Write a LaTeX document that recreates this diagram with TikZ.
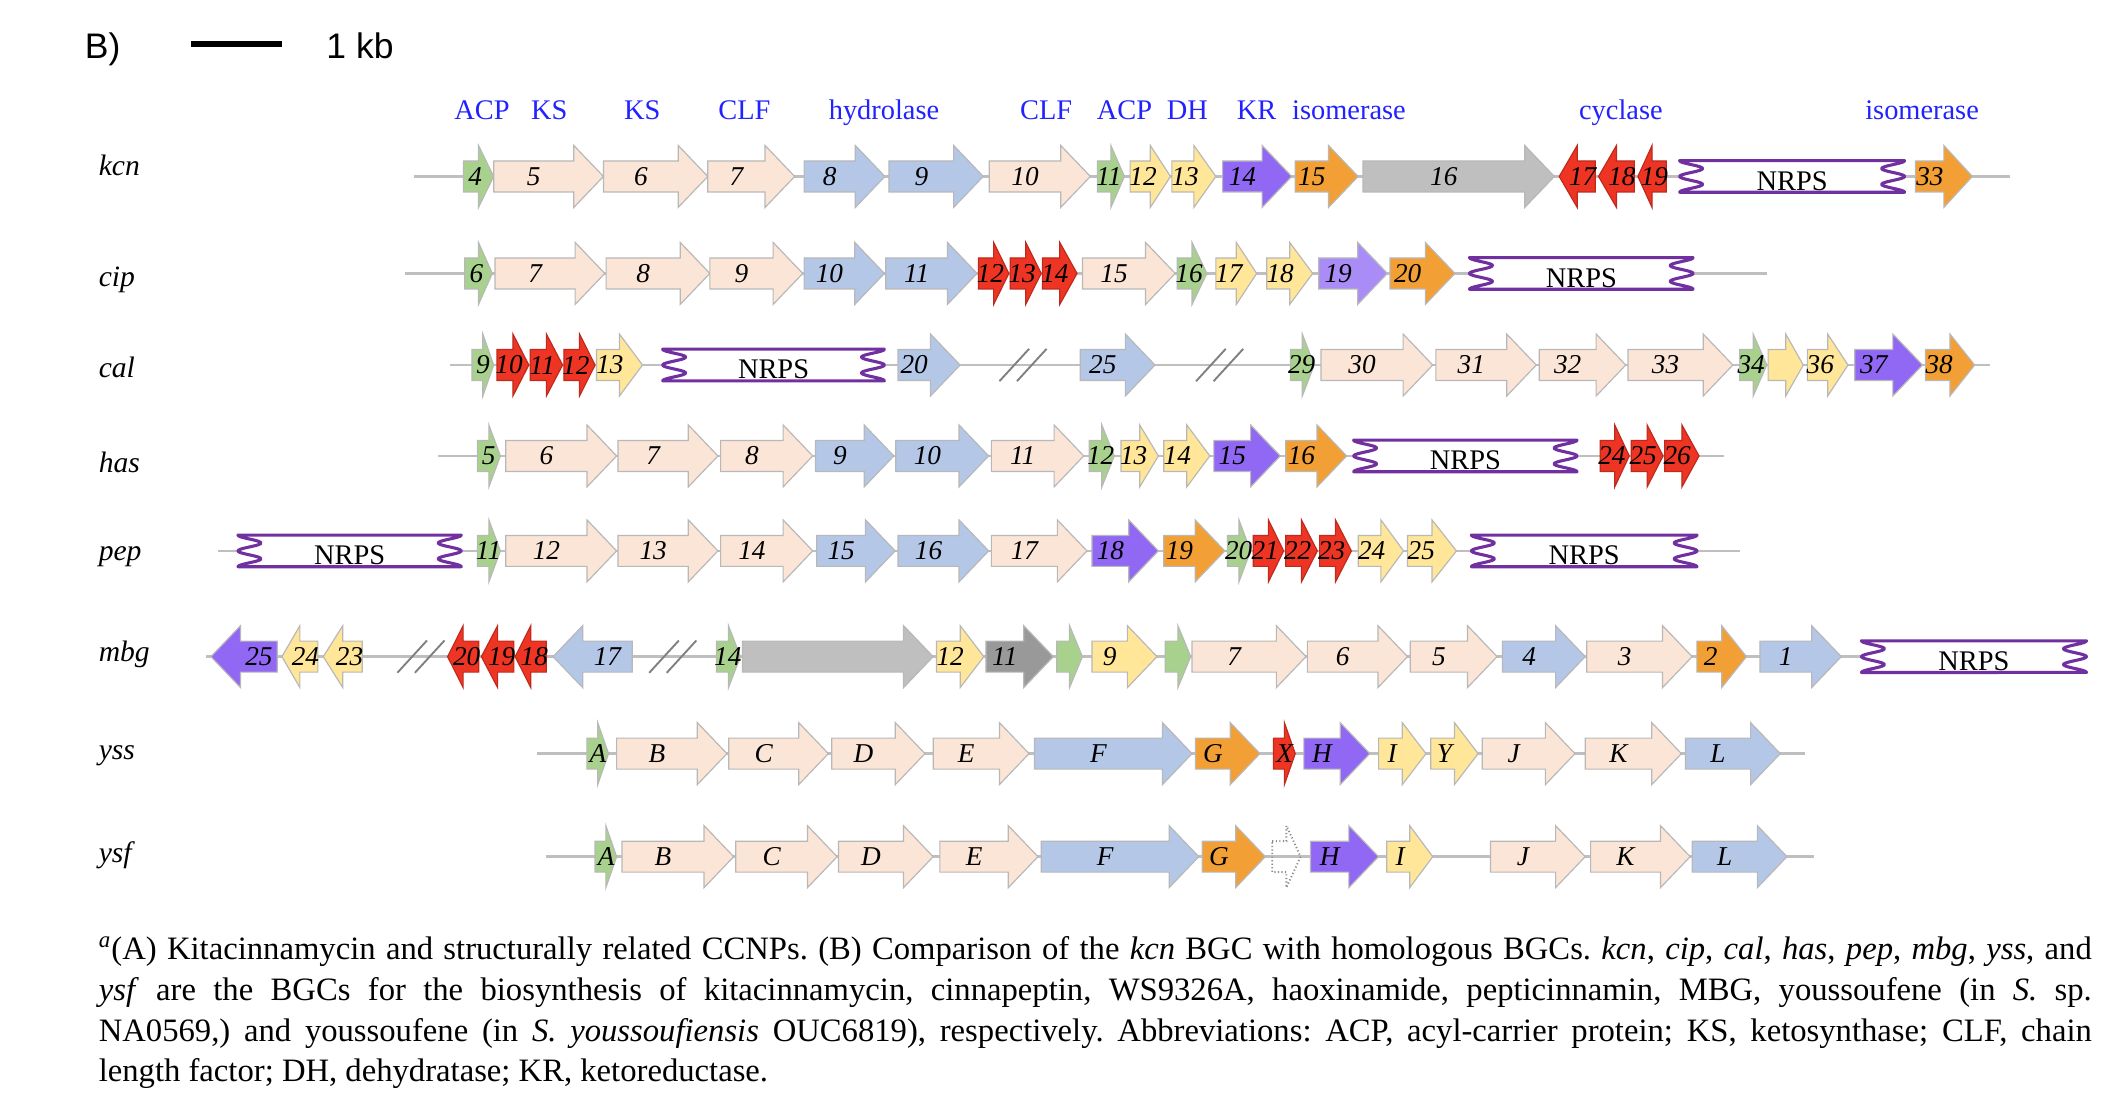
\documentclass[tikz,border=0pt]{standalone}
\usepackage{fontspec}
\setmainfont{Liberation Serif}
\newfontfamily\arialfont{Liberation Sans}
\definecolor{ksPink}{HTML}{FBE5D6}
\definecolor{ksBlue}{HTML}{B4C7E7}
\definecolor{ksGreen}{HTML}{A9D18E}
\definecolor{ksYellow}{HTML}{FFE699}
\definecolor{ksRed}{HTML}{EE3524}
\definecolor{ksPurple}{HTML}{9068F4}
\definecolor{ksLilac}{HTML}{A98CF6}
\definecolor{ksOrange}{HTML}{F2A036}
\definecolor{ksGrey}{HTML}{BFBFBF}
\definecolor{ksDark}{HTML}{999999}
\definecolor{ksNrps}{HTML}{7030A0}
\definecolor{ksLabel}{HTML}{2222FF}

\newcommand{\gene}[5]{%
  \pgfmathsetmacro{\genlen}{#3-#2}%
  \pgfmathsetmacro{\gensgn}{sign(\genlen)}%
  \pgfmathsetmacro{\genhd}{(\gensgn)*min(22,0.5*abs(\genlen))}%
  \pgfmathsetmacro{\genbd}{#3-(\genhd)}%
  \pgfmathsetmacro{\genlx}{(#2+\genbd)/2+(\gensgn)*0.3*(22-abs(\genhd))}%
  \draw[gene,#4] (#2,\rowy-11.5) -- (\genbd,\rowy-11.5) -- (\genbd,\rowy-23) -- (#3,\rowy)
    -- (\genbd,\rowy+23) -- (\genbd,\rowy+11.5) -- (#2,\rowy+11.5) -- cycle;
  \node[num] (#1) at (\genlx,\rowy) {#5};}

\newcommand{\nrps}[3]{%
  \draw[nrpsbox] (#2,\rowy-11.75) -- (#3,\rowy-11.75)
    -- plot[domain=0:1,samples=49] ({#3-8.5*(1-cos(720*\x))},{\rowy-11.75+23.5*\x})
    -- (#2,\rowy+11.75)
    -- plot[domain=1:0,samples=49] ({#2+8.5*(1-cos(720*\x))},{\rowy-11.75+23.5*\x})
    -- cycle;
  \node[nrpslab] (#1) at ({(#2+#3)/2},\rowy+3.5) {NRPS};}

\newcommand{\genebreak}[1]{%
  \draw[brk] (#1,\rowy+12) -- (#1+22,\rowy-12);
  \draw[brk] (#1+13,\rowy+12) -- (#1+35,\rowy-12);}

\begin{document}
\begin{tikzpicture}[x=0.02cm, y=-0.02cm,
  gene/.style={draw=black!28, line width=0.5pt},
  pinkg/.style={fill=ksPink},
  blueg/.style={fill=ksBlue},
  greeng/.style={fill=ksGreen},
  yellowg/.style={fill=ksYellow},
  redg/.style={fill=ksRed, draw=ksRed!80!black},
  purpleg/.style={fill=ksPurple},
  lilacg/.style={fill=ksLilac},
  orangeg/.style={fill=ksOrange},
  greyg/.style={fill=ksGrey},
  darkg/.style={fill=ksDark},
  ghostg/.style={draw=black!45, densely dotted, line width=0.8pt},
  num/.style={font=\fontsize{11.5}{12}\selectfont\itshape, inner sep=0pt},
  rowlab/.style={font=\fontsize{12.5}{14}\selectfont\itshape, anchor=base west, inner sep=0pt},
  fnlab/.style={font=\fontsize{12}{14}\selectfont, text=ksLabel, anchor=base west, inner sep=0pt},
  backbone/.style={draw=ksGrey, line width=1.1pt},
  brk/.style={draw=black!50, line width=0.8pt},
  nrpsbox/.style={draw=ksNrps, line width=1.3pt, fill=white, line join=round},
  nrpslab/.style={font=\fontsize{12}{14}\selectfont, inner sep=0pt},
  head/.style={font=\arialfont\fontsize{15}{18}\selectfont, anchor=base west, inner sep=0pt},
  note/.style={text width=29.6cm, align=justify, inner sep=0pt, anchor=north west,
    font=\fontsize{13.8}{17.2}\selectfont\frenchspacing}]
\useasboundingbox (0,0) rectangle (1568,821);

\node[head] (panel) at (62.75,43.3) {B)};
\coordinate (bar-l) at (142,32.7);
\coordinate (bar-r) at (209.3,32.7);
\draw[line width=2.2pt] (bar-l) -- (bar-r);
\node[head] (scale) at (242,43.3) {1 kb};

\foreach \x/\t [count=\i] in {337/ACP,394/KS,463/KS,533/CLF,615/hydrolase,757/CLF,
  814/ACP,866/DH,918/KR,959/isomerase,1172/cyclase,1384.5/isomerase}
  \node[fnlab] (fn\i) at (\x,89) {\t};

% kcn
\def\rowy{131}
\node[rowlab] (kcn) at (73,130) {kcn};
\coordinate (kcn-l) at (307,\rowy);
\coordinate (kcn-r) at (1492.5,\rowy);
\draw[backbone] (kcn-l) -- (kcn-r);
\foreach \t/\p/\c/\l [count=\i] in {344/366.5/greeng/4, 366.5/448/pinkg/5, 448/525.5/pinkg/6,
  525.5/590/pinkg/7, 597/657/blueg/8, 660/730/blueg/9, 734.5/809.5/pinkg/10,
  814.7/834.8/greeng/11, 839/869/yellowg/12, 870/902.7/yellowg/13, 907.7/959/purpleg/14,
  961.5/1008.3/orangeg/15, 1011.8/1154/greyg/16, 1184.3/1157.6/redg/17,
  1213.4/1186.8/redg/18, 1237/1216/redg/19, 1422/1464.3/orangeg/33}
  {\gene{kcn\i}{\t}{\p}{\c}{\l}}
\nrps{kcn-nrps}{1247}{1414}

% cip
\def\rowy{203}
\node[rowlab] (cip) at (73,213) {cip};
\coordinate (cip-l) at (301,\rowy);
\coordinate (cip-r) at (1311.5,\rowy);
\draw[backbone] (cip-l) -- (cip-r);
\foreach \t/\p/\c/\l [count=\i] in {345/365.5/greeng/6, 367.5/449/pinkg/7, 450/527/pinkg/8,
  527/596/pinkg/9, 597/656.6/blueg/10, 657.6/725.4/blueg/11, 726.4/749/redg/12,
  750/773/redg/13, 774/799.6/redg/14, 803.6/872.5/pinkg/15, 874/896/greeng/16,
  902.7/933/yellowg/17, 940.4/974.6/yellowg/18, 979/1030/lilacg/19, 1032/1080.2/orangeg/20}
  {\gene{cip\i}{\t}{\p}{\c}{\l}}
\nrps{cip-nrps}{1091}{1257}

% cal
\def\rowy{271}
\node[rowlab] (cal) at (73,280) {cal};
\coordinate (cal-l) at (334,\rowy);
\coordinate (cal-r) at (1477.7,\rowy);
\draw[backbone] (cal-l) -- (cal-r);
\foreach \t/\p/\c/\l [count=\i] in {350.4/366.5/greeng/9, 369/392.6/redg/10,
  393.6/417.7/redg/11, 418.7/441.8/redg/12, 442.8/477/yellowg/13, 666.7/712.8/blueg/20,
  802/857.5/blueg/25, 958/975.7/greeng/29, 980.7/1063.7/pinkg/30, 1066/1140.6/pinkg/31,
  1142.7/1207/pinkg/32, 1208.6/1286.5/pinkg/33, 1291.5/1311.7/greeng/34,
  1312.7/1338.8/yellowg/{}, 1341.8/1372/yellowg/36, 1377/1427.3/purpleg/37,
  1429.4/1466/orangeg/38}
  {\gene{cal\i}{\t}{\p}{\c}{\l}}
\nrps{cal-nrps}{492}{656.6}
\genebreak{742}
\genebreak{888}

% has
\def\rowy{338.5}
\node[rowlab] (has) at (73,351) {has};
\coordinate (has-l) at (325,\rowy);
\coordinate (has-r) at (1280,\rowy);
\draw[backbone] (has-l) -- (has-r);
\foreach \t/\p/\c/\l [count=\i] in {354.4/371.5/greeng/5, 375.5/457.8/pinkg/6,
  458.8/533/pinkg/7, 535/603.4/pinkg/8, 605.4/663.6/blueg/9, 665/734/blueg/10,
  736/804.6/pinkg/11, 808.7/827.3/greeng/12, 832.3/860/yellowg/13, 864/898.2/yellowg/14,
  901.2/950.5/purpleg/15, 954.5/999.8/orangeg/16, 1188/1209.6/redg/24,
  1211/1234.7/redg/25, 1236/1261.4/redg/26}
  {\gene{has\i}{\t}{\p}{\c}{\l}}
\nrps{has-nrps}{1005}{1170.8}

% pep
\def\rowy{409}
\node[rowlab] (pep) at (73,416) {pep};
\coordinate (pep-l) at (161.6,\rowy);
\coordinate (pep-r) at (1291.5,\rowy);
\draw[backbone] (pep-l) -- (pep-r);
\foreach \t/\p/\c/\l [count=\i] in {354.4/371.5/greeng/11, 375.5/457.8/pinkg/12,
  458.8/533/pinkg/13, 535/603.4/pinkg/14, 606.4/664.6/blueg/15, 666.7/734/blueg/16,
  736/807/pinkg/17, 810.7/860/purpleg/18, 864/909.3/orangeg/19, 911.3/928.4/greeng/20,
  930.4/953/redg/21, 954.5/978/redg/22, 979.7/1003.3/redg/23, 1008.4/1042/yellowg/24,
  1045/1081.3/yellowg/25}
  {\gene{pep\i}{\t}{\p}{\c}{\l}}
\nrps{pep-nrps1}{176.7}{342.4}
\nrps{pep-nrps2}{1092.4}{1259.9}

% mbg
\def\rowy{487.5}
\node[rowlab] (mbg) at (73,491) {mbg};
\coordinate (mbg-l) at (153,\rowy);
\coordinate (mbg-r) at (1390,\rowy);
\draw[backbone] (mbg-l) -- (mbg-r);
\foreach \t/\p/\c/\l [count=\i] in {205.8/156.6/purpleg/25, 236/209.3/yellowg/24,
  269/240/yellowg/23, 355.4/332.3/redg/20, 381.5/357.4/redg/19, 405.6/382.5/redg/18,
  469.4/410.6/blueg/17, 532/549.7/greeng/14, 551.2/692.8/greyg/{}, 695.3/730.4/yellowg/12,
  732/782/darkg/11, 784.5/803.6/greeng/{}, 810.7/859/yellowg/9, 865/884/greeng/{},
  885/969.6/pinkg/7, 970.6/1045/pinkg/6, 1047/1111.5/pinkg/5, 1115.5/1176.9/blueg/4,
  1178/1256.3/pinkg/3, 1259.8/1296.6/orangeg/2, 1306.6/1367/blueg/1}
  {\gene{mbg\i}{\t}{\p}{\c}{\l}}
\nrps{mbg-nrps}{1382}{1549}
\genebreak{295}
\genebreak{482}

% yss
\def\rowy{559.5}
\node[rowlab] (yss) at (73,564) {yss};
\coordinate (yss-l) at (399,\rowy);
\coordinate (yss-r) at (1340.3,\rowy);
\draw[backbone] (yss-l) -- (yss-r);
\foreach \t/\p/\c/\l [count=\i] in {435.7/451.8/greeng/A, 457.8/539.7/pinkg/B,
  541/615/pinkg/C, 617.5/686.7/pinkg/D, 692.8/764/pinkg/E, 768/885/blueg/F,
  887.6/935.4/orangeg/G, 945.5/961.6/redg/X, 968/1017/purpleg/H, 1023.5/1058.7/yellowg/I,
  1062.2/1097.4/yellowg/Y, 1100.4/1169.3/pinkg/J, 1176.9/1248.3/pinkg/K,
  1251.3/1321.7/blueg/L}
  {\gene{yss\i}{\t}{\p}{\c}{\l}}

% ysf
\def\rowy{636}
\node[rowlab] (ysf) at (73,640) {ysf};
\coordinate (ysf-l) at (405.6,\rowy);
\coordinate (ysf-r) at (1346.9,\rowy);
\draw[backbone] (ysf-l) -- (ysf-r);
\foreach \t/\p/\c/\l [count=\i] in {441.8/457.8/greeng/A, 461.8/544.7/pinkg/B,
  546.2/621.5/pinkg/C, 622.5/692.8/pinkg/D, 697.8/770.6/pinkg/E, 773/890/blueg/F,
  892.6/939.4/orangeg/G, 944.5/965.6/ghostg/{}, 973/1023.4/purpleg/H,
  1029.5/1063.7/yellowg/I, 1106.5/1176.9/pinkg/J, 1180.9/1254.8/pinkg/K,
  1256.3/1326.7/blueg/L}
  {\gene{ysf\i}{\t}{\p}{\c}{\l}}

\node[note] (caption) at (73,695) {\textsuperscript{\itshape a}(A) Kitacinnamycin and
  structurally related CCNPs. (B) Comparison of the \textit{kcn} BGC with homologous BGCs.
  \textit{kcn}, \textit{cip}, \textit{cal}, \textit{has}, \textit{pep}, \textit{mbg},
  \textit{yss}, and\linebreak \textit{ysf} are the BGCs for the biosynthesis of
  kitacinnamycin, cinnapeptin, WS9326A, haoxinamide, pepticinnamin, MBG, youssoufene (in
  \textit{S.} sp.\linebreak NA0569,) and youssoufene (in \textit{S. youssoufiensis}
  OUC6819), respectively. Abbreviations: ACP, acyl-carrier protein; KS, ketosynthase; CLF,
  chain\linebreak length factor; DH, dehydratase; KR, ketoreductase.};
\end{tikzpicture}
\end{document}
